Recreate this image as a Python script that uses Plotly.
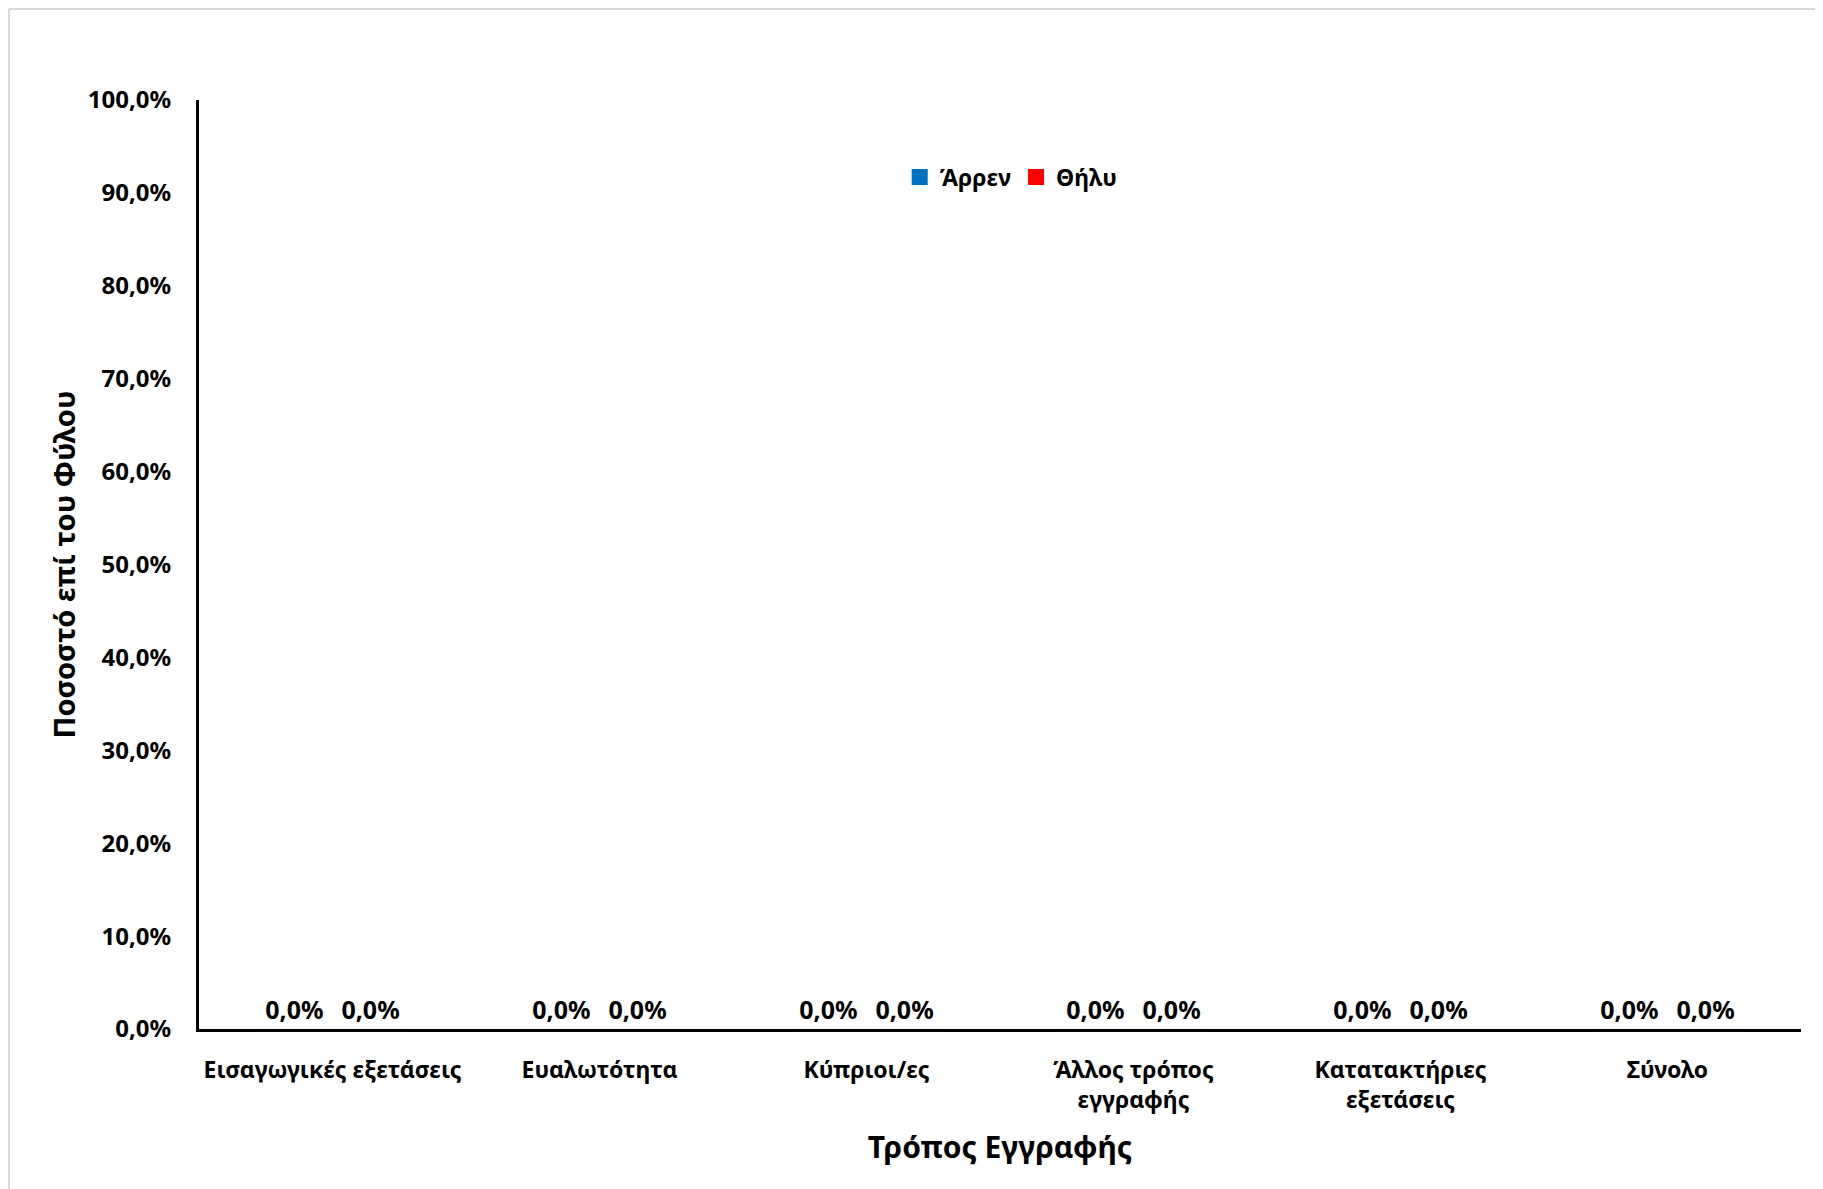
import plotly.graph_objects as go

categories = ["Εισαγωγικές εξετάσεις", "Ευαλωτότητα", "Κύπριοι/ες",
              "Άλλος τρόπος<br>εγγραφής", "Κατατακτήριες<br>εξετάσεις", "Σύνολο"]
male_values = [0.0, 0.0, 0.0, 0.0, 0.0, 0.0]
female_values = [0.0, 0.0, 0.0, 0.0, 0.0, 0.0]
series_names = ["Άρρεν", "Θήλυ"]
series_colors = ["#0070C0", "#FF0000"]
y_tick_values = [0, 10, 20, 30, 40, 50, 60, 70, 80, 90, 100]
y_tick_labels = ["0,0%", "10,0%", "20,0%", "30,0%", "40,0%", "50,0%",
                 "60,0%", "70,0%", "80,0%", "90,0%", "100,0%"]

FONT = "Noto Sans"
W, H = 1815, 1181
L, R, T, B = 191, 22, 92, 160
PW, PH = W - L - R, H - T - B

def fmt(v):
    return f"{v:.1f}".replace(".", ",") + "%"

fig = go.Figure()
for name, color, vals in zip(series_names, series_colors, [male_values, female_values]):
    fig.add_trace(go.Bar(
        x=categories, y=vals, name=name, marker_color=color, showlegend=False,
        text=[fmt(v) for v in vals], textposition="outside",
        textfont=dict(family=FONT, size=25, color="#000000", weight="bold"), cliponaxis=False,
    ))
for name, color in zip(series_names, series_colors):
    fig.add_trace(go.Scatter(
        x=[None], y=[None], mode="markers", name=name,
        marker=dict(symbol="square", size=16, color=color),
    ))

fig.update_layout(
    width=W, height=H,
    margin=dict(l=L, r=R, t=T, b=B),
    paper_bgcolor="white", plot_bgcolor="white",
    barmode="group", bargap=0.43, bargroupgap=0.0,
    font=dict(family=FONT, size=22, color="#000000", weight="bold"),
    showlegend=True,
    legend=dict(orientation="h", x=0.507, y=1 - (169 - T) / PH, xanchor="center", yanchor="middle",
                font=dict(family=FONT, size=23, color="#000000", weight="bold"),
                itemwidth=30, traceorder="normal"),
    xaxis=dict(
        showline=True, linecolor="#000000", linewidth=3, showgrid=False,
        ticks="outside", ticklen=18, tickcolor="rgba(0,0,0,0)",
        tickfont=dict(family=FONT, size=23, weight="bold"),
        title=dict(text="Τρόπος Εγγραφής", font=dict(family=FONT, size=30, weight="bold"),
                   standoff=24),
        tickangle=0,
    ),
    yaxis=dict(
        range=[0, 100], showline=True, linecolor="#000000", linewidth=3,
        showgrid=False, zeroline=False,
        tickmode="array", tickvals=y_tick_values, ticktext=y_tick_labels,
        ticks="outside", ticklen=20, tickcolor="rgba(0,0,0,0)",
        tickfont=dict(family=FONT, size=24, weight="bold"),
        title=dict(text="Ποσοστό επί του Φύλου", font=dict(family=FONT, size=29, weight="bold"),
                   standoff=4),
    ),
    shapes=[
        dict(type="line", xref="paper", yref="paper", x0=(1 - L) / PW, x1=1 + (R + 5) / PW,
             y0=1 + (T - 1) / PH, y1=1 + (T - 1) / PH, line=dict(color="#D9D9D9", width=2)),
        dict(type="line", xref="paper", yref="paper", x0=(1 - L) / PW, x1=(1 - L) / PW,
             y0=-(B + 5) / PH, y1=1 + (T - 1) / PH, line=dict(color="#D9D9D9", width=2)),
    ],
)

fig.write_html("out.html")
